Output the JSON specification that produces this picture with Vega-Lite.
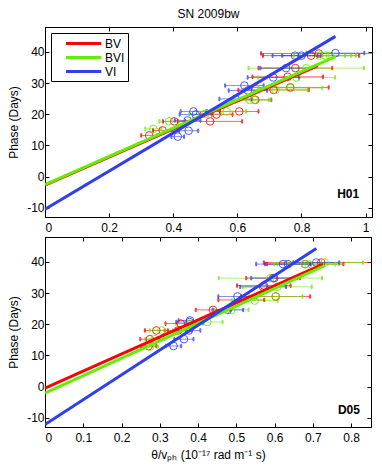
{
  "$schema": "https://vega.github.io/schema/vega-lite/v6.json",
  "padding": {"left": 7, "top": 7, "right": 2, "bottom": 4},
  "background": "white",
  "config": {
    "font": "Liberation Sans",
    "view": {"stroke": "black", "strokeWidth": 1},
    "axis": {
      "labelFont": "Liberation Sans", "labelFontSize": 12, "labelColor": "black",
      "titleFont": "Liberation Sans", "titleFontSize": 12, "titleFontWeight": "normal", "titleColor": "black",
      "domainColor": "black", "tickColor": "black", "grid": false,
      "tickSize": -4
    },
    "axisX": {"labelPadding": 9.5},
    "axisY": {"labelPadding": 5}
  },
  "datasets": {
    "pts": [
      {"p":"H01","s":"BV","x":0.325,"lo":0.300,"hi":0.350,"y":13.2},
      {"p":"H01","s":"BV","x":0.367,"lo":0.337,"hi":0.397,"y":14.8},
      {"p":"H01","s":"BV","x":0.403,"lo":0.368,"hi":0.438,"y":17.7},
      {"p":"H01","s":"BV","x":0.515,"lo":0.415,"hi":0.615,"y":17.7},
      {"p":"H01","s":"BV","x":0.535,"lo":0.485,"hi":0.585,"y":19.9},
      {"p":"H01","s":"BV","x":0.606,"lo":0.546,"hi":0.666,"y":20.9},
      {"p":"H01","s":"BV","x":0.656,"lo":0.606,"hi":0.706,"y":24.6},
      {"p":"H01","s":"BV","x":0.713,"lo":0.603,"hi":0.823,"y":27.8},
      {"p":"H01","s":"BV","x":0.765,"lo":0.645,"hi":0.885,"y":28.6},
      {"p":"H01","s":"BV","x":0.757,"lo":0.647,"hi":0.867,"y":32.0},
      {"p":"H01","s":"BV","x":0.781,"lo":0.666,"hi":0.896,"y":34.8},
      {"p":"H01","s":"BV","x":0.830,"lo":0.680,"hi":0.980,"y":38.8},
      {"p":"H01","s":"BV","x":0.854,"lo":0.674,"hi":1.034,"y":39.5},
      {"p":"H01","s":"BVI","x":0.338,"lo":0.313,"hi":0.363,"y":15.3},
      {"p":"H01","s":"BVI","x":0.387,"lo":0.357,"hi":0.417,"y":17.7},
      {"p":"H01","s":"BVI","x":0.500,"lo":0.450,"hi":0.550,"y":20.1},
      {"p":"H01","s":"BVI","x":0.567,"lo":0.507,"hi":0.627,"y":20.9},
      {"p":"H01","s":"BVI","x":0.638,"lo":0.578,"hi":0.698,"y":24.6},
      {"p":"H01","s":"BVI","x":0.653,"lo":0.603,"hi":0.703,"y":24.6},
      {"p":"H01","s":"BVI","x":0.719,"lo":0.619,"hi":0.819,"y":27.8},
      {"p":"H01","s":"BVI","x":0.765,"lo":0.665,"hi":0.865,"y":28.4},
      {"p":"H01","s":"BVI","x":0.785,"lo":0.665,"hi":0.905,"y":31.8},
      {"p":"H01","s":"BVI","x":0.815,"lo":0.635,"hi":0.995,"y":34.8},
      {"p":"H01","s":"BVI","x":0.856,"lo":0.776,"hi":0.936,"y":38.8},
      {"p":"H01","s":"BVI","x":0.875,"lo":0.795,"hi":0.955,"y":38.8},
      {"p":"H01","s":"BVI","x":0.890,"lo":0.810,"hi":0.970,"y":38.8},
      {"p":"H01","s":"VI","x":0.414,"lo":0.394,"hi":0.434,"y":12.8},
      {"p":"H01","s":"VI","x":0.448,"lo":0.418,"hi":0.478,"y":14.7},
      {"p":"H01","s":"VI","x":0.445,"lo":0.405,"hi":0.485,"y":18.0},
      {"p":"H01","s":"VI","x":0.470,"lo":0.420,"hi":0.520,"y":19.9},
      {"p":"H01","s":"VI","x":0.463,"lo":0.423,"hi":0.503,"y":20.9},
      {"p":"H01","s":"VI","x":0.594,"lo":0.544,"hi":0.644,"y":24.9},
      {"p":"H01","s":"VI","x":0.633,"lo":0.573,"hi":0.693,"y":27.6},
      {"p":"H01","s":"VI","x":0.622,"lo":0.562,"hi":0.682,"y":29.2},
      {"p":"H01","s":"VI","x":0.712,"lo":0.632,"hi":0.792,"y":31.8},
      {"p":"H01","s":"VI","x":0.752,"lo":0.672,"hi":0.832,"y":34.8},
      {"p":"H01","s":"VI","x":0.780,"lo":0.710,"hi":0.850,"y":38.8},
      {"p":"H01","s":"VI","x":0.800,"lo":0.740,"hi":0.860,"y":38.8},
      {"p":"H01","s":"VI","x":0.906,"lo":0.816,"hi":0.996,"y":39.6},
      {"p":"D05","s":"BV","x":0.271,"lo":0.251,"hi":0.291,"y":13.0},
      {"p":"D05","s":"BV","x":0.274,"lo":0.249,"hi":0.299,"y":15.2},
      {"p":"D05","s":"BV","x":0.291,"lo":0.261,"hi":0.321,"y":18.0},
      {"p":"D05","s":"BV","x":0.348,"lo":0.313,"hi":0.383,"y":18.0},
      {"p":"D05","s":"BV","x":0.355,"lo":0.315,"hi":0.395,"y":20.2},
      {"p":"D05","s":"BV","x":0.439,"lo":0.394,"hi":0.484,"y":24.6},
      {"p":"D05","s":"BV","x":0.513,"lo":0.453,"hi":0.573,"y":27.8},
      {"p":"D05","s":"BV","x":0.603,"lo":0.513,"hi":0.693,"y":28.9},
      {"p":"D05","s":"BV","x":0.572,"lo":0.502,"hi":0.642,"y":32.4},
      {"p":"D05","s":"BV","x":0.596,"lo":0.526,"hi":0.666,"y":34.8},
      {"p":"D05","s":"BV","x":0.680,"lo":0.580,"hi":0.780,"y":39.3},
      {"p":"D05","s":"BV","x":0.722,"lo":0.572,"hi":0.872,"y":39.8},
      {"p":"D05","s":"BVI","x":0.275,"lo":0.255,"hi":0.295,"y":12.8},
      {"p":"D05","s":"BVI","x":0.287,"lo":0.262,"hi":0.312,"y":15.2},
      {"p":"D05","s":"BVI","x":0.304,"lo":0.274,"hi":0.334,"y":18.0},
      {"p":"D05","s":"BVI","x":0.378,"lo":0.343,"hi":0.413,"y":20.2},
      {"p":"D05","s":"BVI","x":0.424,"lo":0.384,"hi":0.464,"y":20.7},
      {"p":"D05","s":"BVI","x":0.487,"lo":0.442,"hi":0.532,"y":24.6},
      {"p":"D05","s":"BVI","x":0.548,"lo":0.488,"hi":0.608,"y":27.6},
      {"p":"D05","s":"BVI","x":0.603,"lo":0.533,"hi":0.673,"y":28.9},
      {"p":"D05","s":"BVI","x":0.607,"lo":0.517,"hi":0.697,"y":32.0},
      {"p":"D05","s":"BVI","x":0.589,"lo":0.454,"hi":0.724,"y":34.8},
      {"p":"D05","s":"BVI","x":0.679,"lo":0.599,"hi":0.759,"y":39.3},
      {"p":"D05","s":"BVI","x":0.688,"lo":0.608,"hi":0.768,"y":39.3},
      {"p":"D05","s":"BVI","x":0.731,"lo":0.631,"hi":0.831,"y":39.8},
      {"p":"D05","s":"VI","x":0.336,"lo":0.316,"hi":0.356,"y":13.0},
      {"p":"D05","s":"VI","x":0.363,"lo":0.338,"hi":0.388,"y":15.2},
      {"p":"D05","s":"VI","x":0.376,"lo":0.346,"hi":0.406,"y":18.0},
      {"p":"D05","s":"VI","x":0.378,"lo":0.343,"hi":0.413,"y":20.7},
      {"p":"D05","s":"VI","x":0.379,"lo":0.349,"hi":0.409,"y":21.2},
      {"p":"D05","s":"VI","x":0.478,"lo":0.438,"hi":0.518,"y":24.6},
      {"p":"D05","s":"VI","x":0.503,"lo":0.453,"hi":0.553,"y":28.9},
      {"p":"D05","s":"VI","x":0.570,"lo":0.510,"hi":0.630,"y":32.0},
      {"p":"D05","s":"VI","x":0.599,"lo":0.539,"hi":0.659,"y":34.8},
      {"p":"D05","s":"VI","x":0.622,"lo":0.552,"hi":0.692,"y":39.3},
      {"p":"D05","s":"VI","x":0.635,"lo":0.575,"hi":0.695,"y":39.3},
      {"p":"D05","s":"VI","x":0.709,"lo":0.649,"hi":0.769,"y":39.8}
    ],
    "fits": [
      {"p":"H01","s":"BV","x":0.0,"y":-2.8},
      {"p":"H01","s":"BV","x":0.851,"y":35.6},
      {"p":"H01","s":"BVI","x":0.0,"y":-2.6},
      {"p":"H01","s":"BVI","x":0.906,"y":38.5},
      {"p":"H01","s":"VI","x":0.0,"y":-10.5},
      {"p":"H01","s":"VI","x":0.906,"y":45.0},
      {"p":"D05","s":"BV","x":0.0,"y":-0.5},
      {"p":"D05","s":"BV","x":0.727,"y":39.3},
      {"p":"D05","s":"BVI","x":0.0,"y":-2.1},
      {"p":"D05","s":"BVI","x":0.731,"y":38.8},
      {"p":"D05","s":"VI","x":0.0,"y":-12.2},
      {"p":"D05","s":"VI","x":0.709,"y":44.3}
    ],
    "labs": [
      {"p":"H01","x":0.98,"y":-5.5,"t":"H01"},
      {"p":"D05","x":0.823,"y":-7.4,"t":"D05"}
    ]
  },
  "spacing": 2,
  "resolve": {
    "scale": {"x": "independent", "y": "independent", "color": "independent", "stroke": "independent"},
    "legend": {"color": "independent"}
  },
  "vconcat": [
    {
      "width": 327, "height": 190,
      "title": {"text": "SN 2009bw", "fontSize": 12, "fontWeight": "normal", "font": "Liberation Sans", "color": "black", "offset": 6},
      "resolve": {"axis": {"x": "independent", "y": "independent"}},
      "layer": [
        {
          "data": {"name": "pts"},
          "transform": [{"filter": "datum.p == 'H01'"}],
          "mark": {"type": "rule", "strokeWidth": 1, "opacity": 0.6, "clip": true},
          "encoding": {
            "x": {"field": "lo", "type": "quantitative", "scale": {"domain": [0, 1.02], "nice": false, "zero": false},
                  "axis": {"orient": "bottom", "values": [0, 0.2, 0.4, 0.6, 0.8, 1], "labelExpr": "'' + datum.value", "title": null}},
            "x2": {"field": "hi"},
            "y": {"field": "y", "type": "quantitative", "scale": {"domain": [-13, 48], "nice": false, "zero": false},
                  "axis": {"orient": "left", "values": [-10, 0, 10, 20, 30, 40], "labelExpr": "'' + datum.value", "title": "Phase (Days)", "titlePadding": 6}},
            "stroke": {"field": "s", "type": "nominal", "scale": {"domain": ["VI", "BVI", "BV"], "range": ["#2f3fef", "#66ee00", "#ff0000"]}, "legend": null}
          }
        },
        {
          "data": {"name": "pts"},
          "transform": [{"filter": "datum.p == 'H01'"}],
          "mark": {"type": "tick", "orient": "vertical", "size": 3.5, "thickness": 1, "opacity": 0.8, "clip": true},
          "encoding": {
            "x": {"field": "lo", "type": "quantitative", "axis": null},
            "y": {"field": "y", "type": "quantitative", "axis": null},
            "stroke": {"field": "s", "type": "nominal", "legend": null},
            "fill": {"value": null}
          }
        },
        {
          "data": {"name": "pts"},
          "transform": [{"filter": "datum.p == 'H01'"}],
          "mark": {"type": "tick", "orient": "vertical", "size": 3.5, "thickness": 1, "opacity": 0.8, "clip": true},
          "encoding": {
            "x": {"field": "hi", "type": "quantitative", "axis": null},
            "y": {"field": "y", "type": "quantitative", "axis": null},
            "stroke": {"field": "s", "type": "nominal", "legend": null},
            "fill": {"value": null}
          }
        },
        {
          "data": {"name": "pts"},
          "transform": [{"filter": "datum.p == 'H01'"}],
          "mark": {"type": "point", "shape": "circle", "filled": false, "size": 58, "strokeWidth": 1, "opacity": 0.85, "clip": true},
          "encoding": {
            "x": {"field": "x", "type": "quantitative", "axis": {"orient": "top", "values": [0, 0.2, 0.4, 0.6, 0.8, 1], "labels": false, "title": null}},
            "y": {"field": "y", "type": "quantitative", "axis": {"orient": "right", "values": [-10, 0, 10, 20, 30, 40], "labels": false, "title": null}},
            "stroke": {"field": "s", "type": "nominal", "legend": null}
          }
        },
        {
          "data": {"name": "fits"},
          "transform": [{"filter": "datum.p == 'H01'"}],
          "mark": {"type": "line", "strokeWidth": 3, "clip": true},
          "encoding": {
            "x": {"field": "x", "type": "quantitative", "axis": null},
            "y": {"field": "y", "type": "quantitative", "axis": null},
            "color": {"field": "s", "type": "nominal",
                      "scale": {"domain": ["BV", "BVI", "VI"], "range": ["#ff0000", "#66ee00", "#2f3fef"]},
                      "legend": {"orient": "top-left", "title": null, "symbolType": "M0.77,0H6.83", "symbolStrokeWidth": 3,
                                 "symbolSize": 136, "strokeColor": "black", "fillColor": "white", "padding": 3,
                                 "offset": 5.5, "labelFontSize": 12, "labelFont": "Liberation Sans", "labelColor": "black",
                                 "rowPadding": 0, "labelOffset": 36, "cornerRadius": 0}}
          }
        },
        {
          "data": {"name": "labs"},
          "transform": [{"filter": "datum.p == 'H01'"}],
          "mark": {"type": "text", "align": "right", "baseline": "middle", "fontWeight": "bold", "fontSize": 12, "font": "Liberation Sans", "color": "black"},
          "encoding": {
            "x": {"field": "x", "type": "quantitative", "axis": null},
            "y": {"field": "y", "type": "quantitative", "axis": null},
            "text": {"field": "t"}
          }
        }
      ]
    },
    {
      "width": 326, "height": 190,
      "resolve": {"axis": {"x": "independent", "y": "independent"}},
      "layer": [
        {
          "data": {"name": "pts"},
          "transform": [{"filter": "datum.p == 'D05'"}],
          "mark": {"type": "rule", "strokeWidth": 1, "opacity": 0.6, "clip": true},
          "encoding": {
            "x": {"field": "lo", "type": "quantitative", "scale": {"domain": [0, 0.852], "nice": false, "zero": false},
                  "axis": {"orient": "bottom", "values": [0, 0.1, 0.2, 0.3, 0.4, 0.5, 0.6, 0.7, 0.8], "labelExpr": "'' + datum.value",
                           "title": "θ/vₚₕ (10⁻¹⁷ rad m⁻¹ s)", "titlePadding": 6}},
            "x2": {"field": "hi"},
            "y": {"field": "y", "type": "quantitative", "scale": {"domain": [-13, 48], "nice": false, "zero": false},
                  "axis": {"orient": "left", "values": [-10, 0, 10, 20, 30, 40], "labelExpr": "'' + datum.value", "title": "Phase (Days)", "titlePadding": 6}},
            "stroke": {"field": "s", "type": "nominal", "scale": {"domain": ["VI", "BVI", "BV"], "range": ["#2f3fef", "#66ee00", "#ff0000"]}, "legend": null}
          }
        },
        {
          "data": {"name": "pts"},
          "transform": [{"filter": "datum.p == 'D05'"}],
          "mark": {"type": "tick", "orient": "vertical", "size": 3.5, "thickness": 1, "opacity": 0.8, "clip": true},
          "encoding": {
            "x": {"field": "lo", "type": "quantitative", "axis": null},
            "y": {"field": "y", "type": "quantitative", "axis": null},
            "stroke": {"field": "s", "type": "nominal", "legend": null},
            "fill": {"value": null}
          }
        },
        {
          "data": {"name": "pts"},
          "transform": [{"filter": "datum.p == 'D05'"}],
          "mark": {"type": "tick", "orient": "vertical", "size": 3.5, "thickness": 1, "opacity": 0.8, "clip": true},
          "encoding": {
            "x": {"field": "hi", "type": "quantitative", "axis": null},
            "y": {"field": "y", "type": "quantitative", "axis": null},
            "stroke": {"field": "s", "type": "nominal", "legend": null},
            "fill": {"value": null}
          }
        },
        {
          "data": {"name": "pts"},
          "transform": [{"filter": "datum.p == 'D05'"}],
          "mark": {"type": "point", "shape": "circle", "filled": false, "size": 58, "strokeWidth": 1, "opacity": 0.85, "clip": true},
          "encoding": {
            "x": {"field": "x", "type": "quantitative", "axis": {"orient": "top", "values": [0, 0.1, 0.2, 0.3, 0.4, 0.5, 0.6, 0.7, 0.8], "labels": false, "title": null}},
            "y": {"field": "y", "type": "quantitative", "axis": {"orient": "right", "values": [-10, 0, 10, 20, 30, 40], "labels": false, "title": null}},
            "stroke": {"field": "s", "type": "nominal", "legend": null}
          }
        },
        {
          "data": {"name": "fits"},
          "transform": [{"filter": "datum.p == 'D05'"}],
          "mark": {"type": "line", "strokeWidth": 3, "clip": true},
          "encoding": {
            "x": {"field": "x", "type": "quantitative", "axis": null},
            "y": {"field": "y", "type": "quantitative", "axis": null},
            "color": {"field": "s", "type": "nominal",
                      "scale": {"domain": ["BV", "BVI", "VI"], "range": ["#ff0000", "#66ee00", "#2f3fef"]},
                      "legend": null}
          }
        },
        {
          "data": {"name": "labs"},
          "transform": [{"filter": "datum.p == 'D05'"}],
          "mark": {"type": "text", "align": "right", "baseline": "middle", "fontWeight": "bold", "fontSize": 12, "font": "Liberation Sans", "color": "black"},
          "encoding": {
            "x": {"field": "x", "type": "quantitative", "axis": null},
            "y": {"field": "y", "type": "quantitative", "axis": null},
            "text": {"field": "t"}
          }
        }
      ]
    }
  ]
}
